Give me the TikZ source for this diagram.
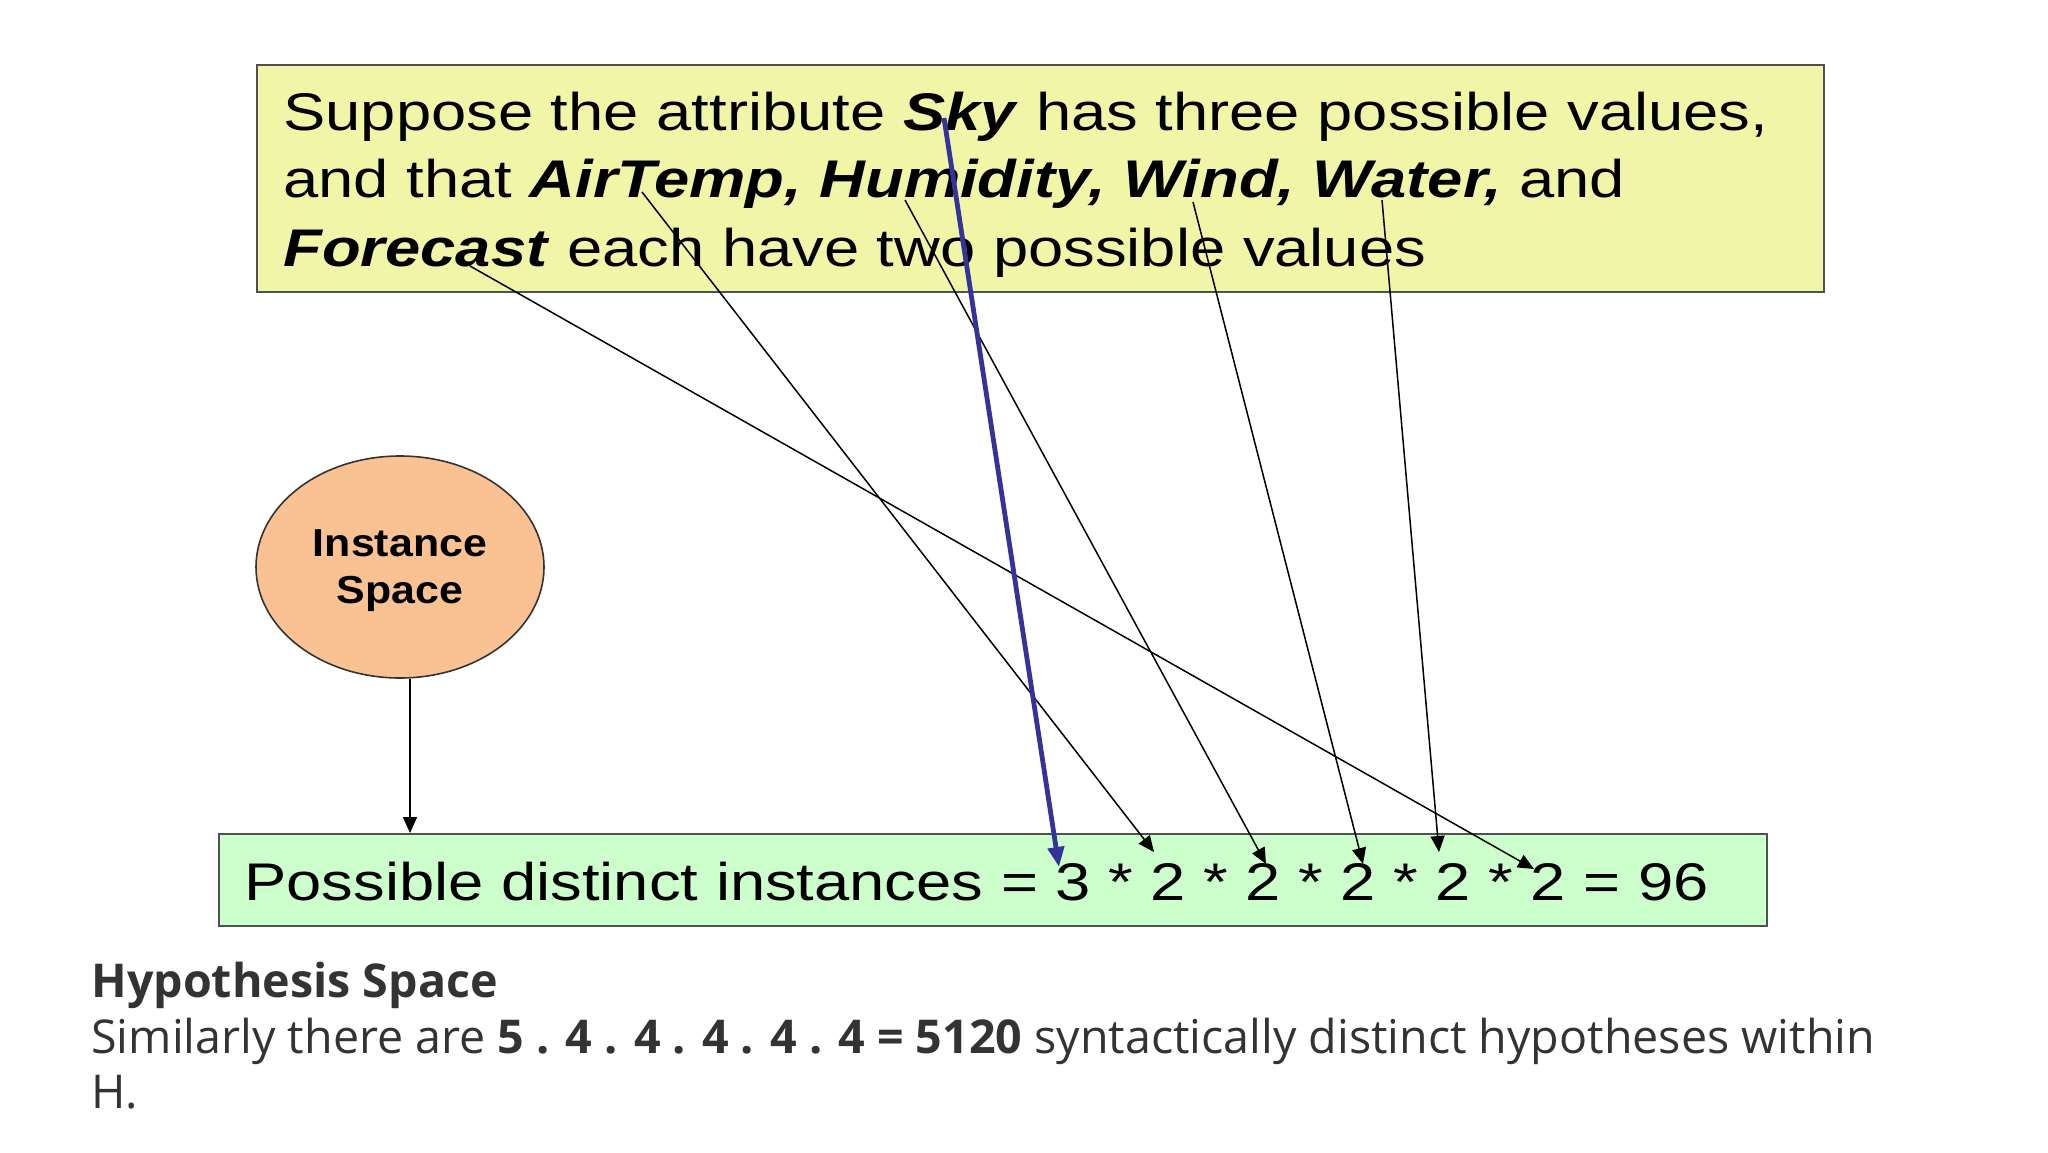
\documentclass[tikz,border=0pt]{standalone}
\usepackage{fontspec}
\setmainfont{Liberation Sans}
\newfontfamily\widesans[FakeStretch=1.195]{Liberation Sans}
\newfontfamily\ellsans[FakeStretch=1.1]{Liberation Sans}
\newfontfamily\parafont{Open Sans}
\usetikzlibrary{shapes.geometric,arrows.meta,calc}
\definecolor{topfill}{RGB}{240,245,168}
\definecolor{botfill}{RGB}{204,255,204}
\definecolor{ellfill}{RGB}{250,194,146}
\definecolor{boxline}{RGB}{80,80,80}
\definecolor{skyblue}{RGB}{51,51,153}
\definecolor{paragrey}{RGB}{51,51,51}
\begin{document}
\begin{tikzpicture}[x=0.5pt,y=-0.5pt,
  panel/.style={draw=boxline,line width=1pt,anchor=north west,inner sep=0pt},
  bigtxt/.style={anchor=base west,inner sep=0pt,font=\widesans\fontsize{26.5pt}{32pt}\selectfont},
  paratxt/.style={anchor=base west,inner sep=0pt,text=paragrey,font=\parafont\fontsize{23.3pt}{28pt}\selectfont},
  link/.style={draw=black,line width=0.75pt,-{Triangle[length=8pt,width=7pt]}},
  skylink/.style={draw=skyblue,line width=2.4pt,-{Triangle[length=10pt,width=8pt]}}]
\useasboundingbox (0,0) rectangle (2048,1152);
% boxes
\node[panel,fill=topfill,minimum width=783.5pt,minimum height=113.5pt] (top) at (256,64) {};
\node[panel,fill=botfill,minimum width=774pt,minimum height=46pt] (bot) at (218,833) {};
\node[draw=black!80,line width=0.8pt,fill=ellfill,ellipse,minimum width=144pt,minimum height=111pt] (ell) at (400,567) {};
\node[align=center,inner sep=0pt,font=\ellsans\bfseries\fontsize{19.5pt}{23.5pt}\selectfont] (elltxt) at (400,571) {Instance\\Space};
% top text
\node[bigtxt] (l1) at (283,130) {Suppose the attribute \textbf{\textit{Sky}} has three possible values,};
\node[bigtxt] (l2) at (283,197) {and that \textbf{\textit{AirTemp, Humidity, Wind, Water,}} and};
\node[bigtxt] (l3) at (283,266) {\textbf{\textit{Forecast}} each have two possible values};
% bottom text
\node[bigtxt] (inst) at (244,900) {Possible distinct instances = 3 * 2 * 2 * 2 * 2 * 2 = 96};
% paragraph
\node[paratxt] (p1) at (91,997) {\textbf{Hypothesis Space}};
\node[paratxt] (p2) at (91,1053) {Similarly there are \textbf{5 . 4 . 4 . 4 . 4 . 4 = 5120} syntactically distinct hypotheses within};
\node[paratxt] (p3) at (91,1108) {H.};
% connector end points
\coordinate (sSky) at (944,118);
\coordinate (sAir) at (642,192);
\coordinate (sHum) at (905,200);
\coordinate (sWind) at (1193,202);
\coordinate (sWater) at (1382,200);
\coordinate (sFore) at (470,266);
\coordinate (tSky) at (1059,867);
\coordinate (tAir) at (1154,852);
\coordinate (tHum) at (1266,864);
\coordinate (tWind) at (1363,864);
\coordinate (tWater) at (1439,852);
\coordinate (tFore) at (1534,869);
% connectors
\draw[link] (sAir) -- (tAir);
\draw[link] (sHum) -- (tHum);
\draw[link] (sWind) -- (tWind);
\draw[link] (sWater) -- (tWater);
\draw[link] (sFore) -- (tFore);
\draw[skylink] (sSky) -- (tSky);
\draw[link] ([xshift=5pt]ell.south) -- ([xshift=5pt]ell.south |- bot.north);
\end{tikzpicture}
\end{document}
